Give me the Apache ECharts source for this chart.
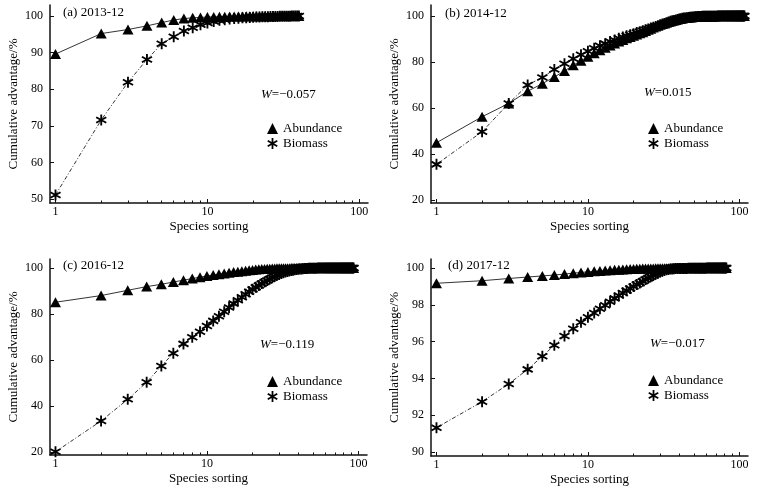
<!DOCTYPE html>
<html>
<head>
<meta charset="utf-8">
<script src="https://cdn.jsdelivr.net/npm/echarts@6/dist/echarts.min.js"></script>
<style>
  html, body { margin: 0; padding: 0; background: #fff; }
  #chart { width: 775px; height: 491px; }
</style>
</head>
<body>
<div id="chart"></div>
<script>
// panel labels and W statistics
var panelTitles = ['(a) 2013-12', '(b) 2014-12', '(c) 2016-12', '(d) 2017-12'];
var wValues = ['\u22120.057', '0.015', '\u22120.119', '\u22120.017'];

// tick labels
var xTicks = [1, 10, 100];
var xMinorTicks = [2, 3, 4, 5, 6, 7, 8, 9, 20, 30, 40, 50, 60, 70, 80, 90];
var yTicksA = [50, 60, 70, 80, 90, 100];
var yTicksB = [20, 40, 60, 80, 100];
var yTicksC = [20, 40, 60, 80, 100];
var yTicksD = [90, 92, 94, 96, 98, 100];

// cumulative advantage (%) by species rank 1..n
var abundA = [89.6, 95.2, 96.3, 97.3, 98.2, 98.9, 99.3, 99.5, 99.6, 99.7,
  99.75, 99.8, 99.82, 99.84, 99.86, 99.88, 99.89, 99.9, 99.91, 99.92,
  99.93, 99.94, 99.94, 99.95, 99.95, 99.96, 99.96, 99.97, 99.97, 99.97,
  99.98, 99.98, 99.98, 99.99, 99.99, 99.99, 99.99, 100, 100, 100];
var biomA = [51.1, 71.6, 81.9, 88.1, 92.4, 94.3, 95.9, 96.8, 97.6, 98.1,
  98.5, 98.8, 99.0, 99.2, 99.3, 99.4, 99.5, 99.55, 99.6, 99.65,
  99.7, 99.73, 99.76, 99.79, 99.81, 99.83, 99.85, 99.87, 99.88, 99.9,
  99.91, 99.92, 99.93, 99.95, 99.96, 99.97, 99.98, 99.99, 100, 100];

var abundB = [44.9, 56.2, 62.0, 67.3, 70.6, 73.5, 76.1, 78.6, 80.6, 82.3,
  83.8, 85.1, 86.2, 87.2, 88.1, 88.9, 89.6, 90.3, 90.9, 91.4,
  92.0, 92.5, 93.0, 93.5, 94.0, 94.5, 95.0, 95.4, 95.8, 96.2,
  96.5, 96.8, 97.1, 97.4, 97.65, 97.9, 98.1, 98.3, 98.5, 98.7,
  98.85, 99.0, 99.1, 99.2, 99.3, 99.38, 99.45, 99.52, 99.58, 99.63,
  99.68, 99.72, 99.76, 99.79, 99.82, 99.84, 99.86, 99.88, 99.89, 99.9,
  99.91, 99.92, 99.93, 99.93, 99.94, 99.95, 99.95, 99.96, 99.96, 99.96,
  99.97, 99.97, 99.97, 99.97, 99.97, 99.97, 99.98, 99.98, 99.98, 99.98,
  99.98, 99.98, 99.99, 99.99, 99.99, 99.99, 99.99, 99.99, 99.99, 99.99,
  99.99, 99.99, 99.99, 99.99, 99.99, 99.99, 100, 100, 100, 100,
  100, 100, 100, 100, 100, 100, 100, 100];
var biomB = [35.5, 49.7, 62.0, 70.0, 73.3, 76.8, 79.3, 81.4, 83.2, 84.7,
  86.0, 87.1, 88.0, 88.9, 89.6, 90.3, 90.9, 91.4, 91.9, 92.3,
  92.8, 93.2, 93.6, 94.0, 94.4, 94.8, 95.1, 95.5, 95.8, 96.2,
  96.5, 96.8, 97.1, 97.4, 97.7, 97.9, 98.1, 98.3, 98.5, 98.7,
  98.85, 99.0, 99.1, 99.2, 99.3, 99.38, 99.45, 99.52, 99.58, 99.63,
  99.68, 99.72, 99.75, 99.78, 99.81, 99.84, 99.86, 99.88, 99.89, 99.9,
  99.91, 99.92, 99.92, 99.93, 99.94, 99.94, 99.95, 99.95, 99.96, 99.96,
  99.96, 99.97, 99.97, 99.97, 99.97, 99.98, 99.98, 99.98, 99.98, 99.98,
  99.98, 99.99, 99.99, 99.99, 99.99, 99.99, 99.99, 99.99, 99.99, 99.99,
  99.99, 99.99, 99.99, 99.99, 99.99, 100, 100, 100, 100, 100,
  100, 100, 100, 100, 100, 100, 100, 100];

var abundC = [85.1, 88.0, 90.3, 91.9, 92.9, 93.9, 94.7, 95.4, 96.0, 96.5,
  96.9, 97.3, 97.6, 97.9, 98.2, 98.4, 98.6, 98.8, 99.0, 99.15,
  99.3, 99.4, 99.5, 99.58, 99.65, 99.7, 99.75, 99.8, 99.83, 99.86,
  99.88, 99.9, 99.91, 99.92, 99.93, 99.94, 99.95, 99.95, 99.96, 99.96,
  99.97, 99.97, 99.97, 99.97, 99.97, 99.97, 99.98, 99.98, 99.98, 99.98,
  99.98, 99.98, 99.98, 99.98, 99.98, 99.99, 99.99, 99.99, 99.99, 99.99,
  99.99, 99.99, 99.99, 99.99, 99.99, 99.99, 99.99, 99.99, 99.99, 99.99,
  100, 100, 100, 100, 100, 100, 100, 100, 100, 100,
  100, 100, 100, 100, 100, 100, 100, 100, 100, 100,
  100, 100, 100];
var biomC = [20.1, 33.5, 42.9, 50.3, 57.4, 62.9, 67.0, 69.9, 72.3, 74.8,
  77.0, 79.0, 81.0, 82.8, 84.5, 86.0, 87.3, 88.6, 89.7, 90.7,
  91.6, 92.4, 93.2, 93.9, 94.6, 95.2, 95.8, 96.3, 96.8, 97.2,
  97.6, 97.9, 98.2, 98.45, 98.7, 98.9, 99.05, 99.2, 99.32, 99.43,
  99.52, 99.6, 99.66, 99.72, 99.76, 99.8, 99.83, 99.86, 99.88, 99.9,
  99.91, 99.92, 99.93, 99.94, 99.95, 99.95, 99.96, 99.96, 99.97, 99.97,
  99.97, 99.98, 99.98, 99.98, 99.98, 99.98, 99.98, 99.99, 99.99, 99.99,
  99.99, 99.99, 99.99, 99.99, 99.99, 99.99, 99.99, 99.99, 100, 100,
  100, 100, 100, 100, 100, 100, 100, 100, 100, 100,
  100, 100, 100];

var abundD = [99.17, 99.31, 99.43, 99.51, 99.57, 99.62, 99.67, 99.72, 99.76, 99.79,
  99.82, 99.84, 99.86, 99.88, 99.9, 99.91, 99.92, 99.93, 99.94, 99.95,
  99.96, 99.96, 99.97, 99.97, 99.98, 99.98, 99.98, 99.99, 99.99, 99.99,
  99.99, 99.99, 99.99, 99.99, 99.99, 100, 100, 100, 100, 100,
  100, 100, 100, 100, 100, 100, 100, 100, 100, 100,
  100, 100, 100, 100, 100, 100, 100, 100, 100, 100,
  100, 100, 100, 100, 100, 100, 100, 100, 100, 100,
  100, 100, 100, 100, 100, 100, 100, 100, 100, 100,
  100, 100];
var biomD = [91.32, 92.73, 93.70, 94.49, 95.20, 95.80, 96.30, 96.70, 97.05, 97.32,
  97.56, 97.78, 97.98, 98.17, 98.35, 98.5, 98.64, 98.77, 98.89, 99.0,
  99.1, 99.19, 99.28, 99.37, 99.45, 99.52, 99.59, 99.66, 99.72, 99.78,
  99.83, 99.87, 99.9, 99.92, 99.94, 99.95, 99.96, 99.97, 99.97, 99.98,
  99.98, 99.98, 99.98, 99.98, 99.98, 99.99, 99.99, 99.99, 99.99, 99.99,
  99.99, 99.99, 99.99, 99.99, 99.99, 99.99, 99.99, 99.99, 99.99, 99.99,
  100, 100, 100, 100, 100, 100, 100, 100, 100, 100,
  100, 100, 100, 100, 100, 100, 100, 100, 100, 100,
  100, 100];

var FONT = '"Liberation Serif", "Times New Roman", serif';
// six-armed asterisk marker
var STAR = 'path://M8.4 0L11.6 0L11.6 20L8.4 20Z' +
  'M2.14 3.61L19.46 13.61L17.86 16.39L0.54 6.39Z' +
  'M0.54 13.61L17.86 3.61L19.46 6.39L2.14 16.39Z';

function toPairs(arr) {
  return arr.map(function (v, i) { return [i + 1, v]; });
}

// per panel layout
var panels = [
  { grid: { left: 50, top: 5, width: 318, height: 198 }, y: [48.9, 103], ticks: yTicksA,
    abund: abundA, biom: biomA, title: [63, 6], w: [261, 88], legend: [267, 122] },
  { grid: { left: 431, top: 5, width: 317, height: 198 }, y: [18.7, 104.8], ticks: yTicksB,
    abund: abundB, biom: biomB, title: [445, 7], w: [644, 86], legend: [648, 122] },
  { grid: { left: 50, top: 259, width: 317, height: 196 }, y: [18.7, 103.9], ticks: yTicksC,
    abund: abundC, biom: biomC, title: [63, 259], w: [260, 338], legend: [267, 375] },
  { grid: { left: 431, top: 259, width: 317, height: 197 }, y: [89.78, 100.49], ticks: yTicksD,
    abund: abundD, biom: biomD, title: [448, 259], w: [650, 337], legend: [648, 374] }
];

var option = {
  animation: false,
  backgroundColor: '#fff',
  textStyle: { fontFamily: FONT, color: '#000' },
  grid: [], xAxis: [], yAxis: [], series: [], title: [], legend: []
};

panels.forEach(function (p, k) {
  option.grid.push(p.grid);
  option.xAxis[k] = {
    type: 'log', gridIndex: k, position: 'bottom', min: 0.92, max: 114,
    name: 'Species sorting', nameLocation: 'middle', nameGap: 17,
    nameTextStyle: { fontFamily: FONT, fontSize: 13, color: '#000' },
    axisLine: { show: true, lineStyle: { color: '#111', width: 1.5 } },
    axisTick: { show: true, inside: true, length: 4, customValues: xTicks, lineStyle: { color: '#111' } },
    axisLabel: { customValues: xTicks, margin: 3, fontFamily: FONT, fontSize: 12, color: '#000' },
    splitLine: { show: false }
  };
  // second axis on the same grid only carries the minor ticks
  option.xAxis[k + 4] = {
    type: 'log', gridIndex: k, position: 'bottom', min: 0.92, max: 114,
    axisLine: { show: false },
    axisTick: { show: true, inside: true, length: 2.5, customValues: xMinorTicks, lineStyle: { color: '#111' } },
    axisLabel: { show: false },
    splitLine: { show: false }
  };
  option.yAxis.push({
    type: 'value', gridIndex: k, min: p.y[0], max: p.y[1],
    name: 'Cumulative advantage/%', nameLocation: 'middle', nameGap: 30,
    nameTextStyle: { fontFamily: FONT, fontSize: 13, color: '#000' },
    axisLine: { show: true, lineStyle: { color: '#111', width: 1.5 } },
    axisTick: { show: true, inside: true, length: 4, customValues: p.ticks, lineStyle: { color: '#111' } },
    axisLabel: { customValues: p.ticks, margin: 7, fontFamily: FONT, fontSize: 12, color: '#000' },
    splitLine: { show: false }
  });
  option.series.push({
    name: 'Abundance', type: 'line', xAxisIndex: k, yAxisIndex: k,
    data: toPairs(p.abund), symbol: 'triangle', symbolSize: [11, 10],
    itemStyle: { color: '#000' }, lineStyle: { color: '#000', width: 0.8 }
  });
  option.series.push({
    name: 'Biomass', type: 'line', xAxisIndex: k, yAxisIndex: k,
    data: toPairs(p.biom), symbol: STAR, symbolSize: 11,
    itemStyle: { color: '#000' },
    lineStyle: { color: '#000', width: 0.8, type: [4, 2, 1, 2] }
  });
  option.title.push({
    text: panelTitles[k], left: p.title[0], top: p.title[1], padding: 0,
    textStyle: { fontFamily: FONT, fontSize: 13, fontWeight: 'normal', color: '#000' }
  });
  option.title.push({
    text: '{i|W}=' + wValues[k], left: p.w[0], top: p.w[1], padding: 0,
    textStyle: {
      fontFamily: FONT, fontSize: 13, fontWeight: 'normal', color: '#000',
      rich: { i: { fontFamily: FONT, fontSize: 13, fontStyle: 'italic', color: '#000' } }
    }
  });
  option.legend.push({
    orient: 'vertical', left: p.legend[0], top: p.legend[1], padding: 0,
    itemWidth: 11, itemHeight: 11, itemGap: 2, selectedMode: false,
    textStyle: { fontFamily: FONT, fontSize: 13, color: '#000', lineHeight: 11 },
    data: [{ name: 'Abundance', icon: 'triangle' }, { name: 'Biomass', icon: STAR }]
  });
});

var chart = echarts.init(document.getElementById('chart'));
chart.setOption(option);
</script>
</body>
</html>
